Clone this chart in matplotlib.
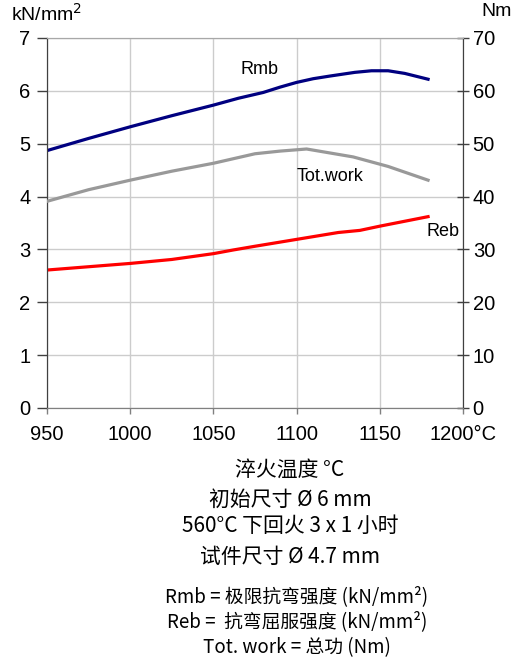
import matplotlib
matplotlib.use("Agg")
import matplotlib.pyplot as plt

# quenching temperature (degC) vs strength / work
temp_rmb = [950, 975, 1000, 1025, 1050, 1065, 1080, 1090, 1100, 1110, 1120, 1135, 1145, 1155, 1165, 1179]
rmb = [4.87, 5.10, 5.32, 5.53, 5.73, 5.86, 5.97, 6.07, 6.16, 6.23, 6.28, 6.35, 6.38, 6.38, 6.33, 6.22]

temp_reb = [950, 1000, 1025, 1050, 1062, 1075, 1100, 1125, 1138, 1150, 1179]
reb = [2.61, 2.735, 2.81, 2.92, 2.99, 3.06, 3.19, 3.32, 3.36, 3.44, 3.62]

temp_work = [950, 975, 1000, 1025, 1050, 1075, 1090, 1106, 1134, 1155, 1179]
tot_work = [39.1, 41.3, 43.1, 44.8, 46.3, 48.1, 48.6, 49.0, 47.5, 45.7, 43.1]

x_ticks = [950, 1000, 1050, 1100, 1150, 1200]
x_labels = ["950", "1000", "1050", "1100", "1150", "1200°C"]

notes = ["淬火温度 °C", "初始尺寸 Ø 6 mm", "560°C 下回火 3 x 1 小时", "试件尺寸 Ø 4.7 mm"]
legend_notes = ["Rmb = 极限抗弯强度 (kN/mm²)", "Reb =  抗弯屈服强度 (kN/mm²)", "Tot. work = 总功 (Nm)"]

plt.rcParams['font.family'] = ['Liberation Sans', 'Noto Sans CJK SC', 'DejaVu Sans']

fig = plt.figure(figsize=(5.21, 6.62), dpi=100)
ax = fig.add_axes([0.0902, 0.3837, 0.7985, 0.5589])
ax2 = ax.twinx()

ax.plot(temp_rmb, rmb, color='#000080', lw=2.3, zorder=3)
ax.plot(temp_reb, reb, color='#ff0000', lw=2.3, zorder=3)
ax2.plot(temp_work, tot_work, color='#999999', lw=2.3, zorder=3)

ax.set_xlim(950, 1200)
ax.set_ylim(0, 7)
ax2.set_ylim(0, 70)
ax.set_xticks(x_ticks)
ax.set_xticklabels(x_labels)
ax.set_yticks(range(0, 8))
ax2.set_yticks(range(0, 80, 10))

ax.grid(True, color='#cccccc', lw=1.0)
ax.set_axisbelow(True)

for a in (ax, ax2):
    a.spines['top'].set_color('#a8a8a8')
    a.spines['bottom'].set_color('#808080')
    a.spines['left'].set_color('#404040')
    a.spines['right'].set_color('#404040')
ax.tick_params(axis='y', direction='out', length=7, width=1, color='#404040',
               labelsize=14.5, pad=5)
ax2.tick_params(axis='y', direction='inout', length=8, width=1, color='#404040',
                labelsize=14.5, pad=3)
ax.tick_params(axis='x', direction='out', length=4, width=1, color='#808080',
               labelsize=14.5, pad=8)

ax.text(1078, 6.4, "Rmb", fontsize=13, ha='center', va='center')
ax2.text(1120, 43.8, "Tot.work", fontsize=13, ha='center', va='center')
ax.text(1188, 3.33, "Reb", fontsize=13, ha='center', va='center')

fig.text(47 / 521, 1 - 14 / 662, "kN/mm$^2$", fontsize=14, ha='center', va='center')
fig.text(497 / 521, 1 - 12 / 662, "Nm", fontsize=14, ha='center', va='center')

cjk = ['Noto Sans CJK SC', 'DejaVu Sans']
note_y = [470, 500, 526, 557]
for txt, y in zip(notes, note_y):
    fig.text(290 / 521, 1 - y / 662, txt, fontsize=15, ha='center', va='center', family=cjk)

leg_y = [597, 622, 648]
for txt, y in zip(legend_notes, leg_y):
    fig.text(297 / 521, 1 - y / 662, txt, fontsize=13.5, ha='center', va='center', family=cjk)

fig.savefig("out.png", dpi=100)
